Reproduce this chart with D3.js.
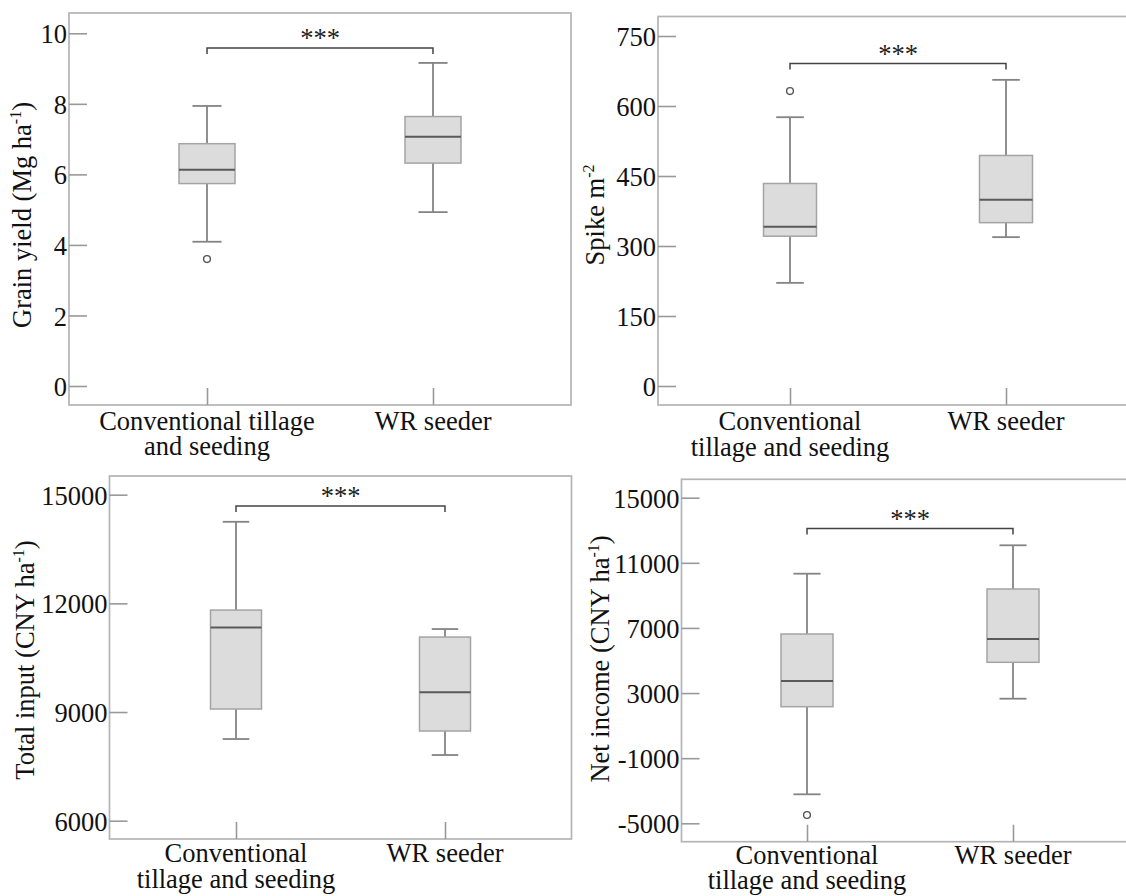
<!DOCTYPE html>
<html>
<head>
<meta charset="utf-8">
<script src="https://cdn.jsdelivr.net/npm/d3@7"></script>
</head>
<body style="margin:0; background:#fff">
<svg id="chart" width="1126" height="896"></svg>
<script>
// groups on the x axis
const groups = ["conv", "wr"];

// box stats per group: [lower whisker, Q1, median, Q3, upper whisker]
const grainYieldStats = [[4.09, 5.74, 6.13, 6.87, 7.94], [4.93, 6.32, 7.07, 7.64, 9.16]];
const grainYieldOutliers = [[3.6], []];
const grainYieldTicks = [0, 2, 4, 6, 8, 10];

const spikeStats = [[221, 321, 341, 434, 576], [319, 350, 399, 494, 656]];
const spikeOutliers = [[632], []];
const spikeTicks = [0, 150, 300, 450, 600, 750];

const totalInputStats = [[8255, 9083, 11337, 11815, 14252], [7813, 8476, 9544, 11070, 11291]];
const totalInputOutliers = [[], []];
const totalInputTicks = [6000, 9000, 12000, 15000];

const netIncomeStats = [[-3219, 2162, 3741, 6628, 10332], [2654, 4889, 6321, 9392, 12076]];
const netIncomeOutliers = [[-4490], []];
const netIncomeTicks = [-5000, -1000, 3000, 7000, 11000, 15000];

const sigLabel = "***";
const FONT = "'Liberation Serif'";
const FS = 26.5;

// panel layouts (pixels)
const panels = [
  {
    stats: grainYieldStats, outliers: grainYieldOutliers, ticks: grainYieldTicks,
    frame: { l: 69, t: 13, r: 571, b: 405 }, yPix: [386, 33.3], xPix: [207, 433],
    boxW: 56, bracketY: 48, ylabel: ["Grain yield (Mg ha", "-1", ")"], ylab: { x: 31, y: 215 },
    xlabels: [["Conventional tillage", "and seeding"], ["WR seeder"]], xlabY: [430, 455]
  },
  {
    stats: spikeStats, outliers: spikeOutliers, ticks: spikeTicks,
    frame: { l: 658, t: 16.5, r: 1140, b: 405 }, yPix: [386, 36], xPix: [790, 1006],
    boxW: 53, bracketY: 63.5, ylabel: ["Spike m", "-2", ""], ylab: { x: 604, y: 215 },
    xlabels: [["Conventional", "tillage and seeding"], ["WR seeder"]], xlabY: [430, 456]
  },
  {
    stats: totalInputStats, outliers: totalInputOutliers, ticks: totalInputTicks,
    frame: { l: 109.5, t: 476, r: 571.5, b: 839 }, yPix: [820.7, 494.7], xPix: [236, 445],
    boxW: 51, bracketY: 506, ylabel: ["Total input (CNY ha", "-1", ")"], ylab: { x: 34, y: 660 },
    xlabels: [["Conventional", "tillage and seeding"], ["WR seeder"]], xlabY: [862, 888]
  },
  {
    stats: netIncomeStats, outliers: netIncomeOutliers, ticks: netIncomeTicks,
    frame: { l: 681.5, t: 479.3, r: 1140, b: 841.7 }, yPix: [823.3, 497.7], xPix: [807, 1013],
    boxW: 52, bracketY: 528.5, ylabel: ["Net income (CNY ha", "-1", ")"], ylab: { x: 609, y: 659 },
    xlabels: [["Conventional", "tillage and seeding"], ["WR seeder"]], xlabY: [864, 889]
  }
];

const svg = d3.select("#chart");

panels.forEach(function (p) {
  const g = svg.append("g");
  const f = p.frame;

  const y = d3.scaleLinear()
    .domain([p.ticks[0], p.ticks[p.ticks.length - 1]])
    .range(p.yPix);
  const x = d3.scalePoint().domain(groups).range(p.xPix);

  // frame
  g.append("rect")
    .attr("x", f.l).attr("y", f.t)
    .attr("width", f.r - f.l).attr("height", f.b - f.t)
    .attr("fill", "none").attr("stroke", "#b4b4b4").attr("stroke-width", 1.7);

  // y axis, ticks point inward
  const ya = g.append("g")
    .attr("transform", "translate(" + f.l + ",0)")
    .call(d3.axisLeft(y).tickValues(p.ticks).tickSizeInner(-18).tickSizeOuter(0)
      .tickPadding(2).tickFormat(function (d) { return String(d); }));
  ya.select(".domain").remove();
  ya.selectAll(".tick line").attr("stroke", "#999").attr("stroke-width", 1.6);
  ya.selectAll(".tick text")
    .style("font-family", FONT).style("font-size", FS + "px")
    .attr("fill", "#111").attr("dy", "0.36em");

  // x axis ticks from the bottom, labels drawn separately
  const xa = g.append("g")
    .attr("transform", "translate(0," + f.b + ")")
    .call(d3.axisBottom(x).tickSizeInner(-17).tickSizeOuter(0).tickFormat(""));
  xa.select(".domain").remove();
  xa.selectAll(".tick line").attr("stroke", "#999").attr("stroke-width", 1.6);

  groups.forEach(function (grp, i) {
    p.xlabels[i].forEach(function (txt, j) {
      g.append("text")
        .attr("x", x(grp)).attr("y", p.xlabY[j])
        .attr("text-anchor", "middle")
        .style("font-family", FONT).style("font-size", FS + "px")
        .attr("fill", "#111")
        .text(txt);
    });
  });

  // boxes
  const capW = p.boxW * 0.52;
  const wStroke = "#848484";
  groups.forEach(function (grp, i) {
    const s = p.stats[i];
    const cx = x(grp);
    // whiskers
    g.append("line").attr("x1", cx).attr("x2", cx)
      .attr("y1", y(s[3])).attr("y2", y(s[4]))
      .attr("stroke", wStroke).attr("stroke-width", 1.8);
    g.append("line").attr("x1", cx).attr("x2", cx)
      .attr("y1", y(s[1])).attr("y2", y(s[0]))
      .attr("stroke", wStroke).attr("stroke-width", 1.8);
    [s[0], s[4]].forEach(function (v) {
      g.append("line").attr("x1", cx - capW / 2).attr("x2", cx + capW / 2)
        .attr("y1", y(v)).attr("y2", y(v))
        .attr("stroke", wStroke).attr("stroke-width", 1.8);
    });
    // box
    g.append("rect")
      .attr("x", cx - p.boxW / 2).attr("y", y(s[3]))
      .attr("width", p.boxW).attr("height", y(s[1]) - y(s[3]))
      .attr("fill", "#dcdcdc").attr("stroke", "#a4a4a4").attr("stroke-width", 1.5);
    // median
    g.append("line")
      .attr("x1", cx - p.boxW / 2).attr("x2", cx + p.boxW / 2)
      .attr("y1", y(s[2])).attr("y2", y(s[2]))
      .attr("stroke", "#5a5a5a").attr("stroke-width", 2);
    // outliers
    p.outliers[i].forEach(function (v) {
      g.append("circle").attr("cx", cx).attr("cy", y(v)).attr("r", 3.4)
        .attr("fill", "#fff").attr("stroke", "#555").attr("stroke-width", 1.4);
    });
  });

  // significance bracket
  const x0 = x(groups[0]), x1 = x(groups[1]), by = p.bracketY;
  g.append("path")
    .attr("d", "M" + x0 + "," + (by + 6) + "V" + by + "H" + x1 + "V" + (by + 6))
    .attr("fill", "none").attr("stroke", "#444").attr("stroke-width", 1.5);
  g.append("text")
    .attr("x", (x0 + x1) / 2).attr("y", by - 1)
    .attr("text-anchor", "middle")
    .style("font-family", FONT).style("font-size", FS + "px")
    .attr("fill", "#222")
    .text(sigLabel);

  // y axis title with superscript
  const yt = g.append("text")
    .attr("transform", "translate(" + p.ylab.x + "," + p.ylab.y + ") rotate(-90)")
    .attr("text-anchor", "middle")
    .style("font-family", FONT).style("font-size", FS + "px")
    .attr("fill", "#111");
  yt.append("tspan").text(p.ylabel[0]);
  yt.append("tspan").style("font-size", "16px").attr("dy", -10).text(p.ylabel[1]);
  yt.append("tspan").attr("dy", 10).text(p.ylabel[2]);
});
</script>
</body>
</html>
